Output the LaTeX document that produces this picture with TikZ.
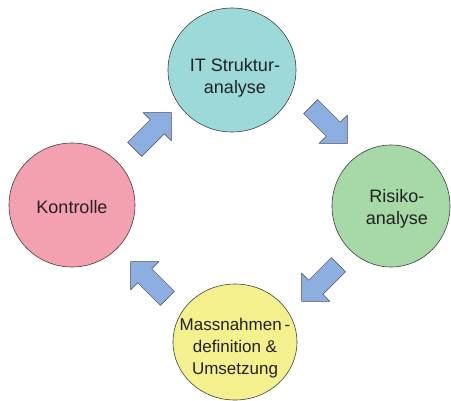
\documentclass[tikz,border=0pt]{standalone}
\usepackage{fontspec}
\setmainfont{Liberation Sans}
\usetikzlibrary{shapes.geometric}
\definecolor{cteal}{HTML}{9ED9D9}
\definecolor{cgreen}{HTML}{A7D8A7}
\definecolor{cyellow}{HTML}{F3F08D}
\definecolor{cpink}{HTML}{F3A0B1}
\definecolor{cblue}{HTML}{8DAEE0}
\definecolor{ctext}{HTML}{222222}
\begin{document}
\begin{tikzpicture}[x=1pt,y=-1pt]
\tikzset{
  phase/.style={ellipse, draw=black!75, line width=0.6pt, inner sep=0pt},
  phasetext/.style={font=\fontsize{18}{22}\selectfont, text=ctext, align=center, inner sep=0pt},
  blockarrow/.pic={\draw[fill=cblue, draw=black!70, line width=0.5pt, line join=round]
    (-26,-10) -- (6,-10) -- (6,-20) -- (26,0) -- (6,20) -- (6,10) -- (-26,10) -- cycle;}
}
\useasboundingbox (0,0) rectangle (451,400);
% phases
\node[phase, fill=cteal, minimum width=128pt, minimum height=124pt] (it) at (232,70) {};
\node[phase, fill=cgreen, minimum width=118pt, minimum height=122pt] (ri) at (391,206) {};
\node[phase, fill=cyellow, minimum width=124pt, minimum height=116pt] (ma) at (235,342) {};
\node[phase, fill=cpink, minimum width=126pt, minimum height=124pt] (ko) at (72,205) {};
% texts
\node[phasetext] (itt) at (235,78) {IT Struktur-\\analyse};
\node[phasetext] (rit) at (397,209) {Risiko-\\analyse};
\node[phasetext, font=\fontsize{17}{22}\selectfont] (mat) at (235,348) {Massnahmen\,-\\definition \&\\Umsetzung};
\node[phasetext] (kot) at (72,207) {Kontrolle};
% arrows
\pic[rotate=45] at (153,131) {blockarrow};
\pic[rotate=-45] at (329,125) {blockarrow};
\pic[rotate=-135] at (320,283) {blockarrow};
\pic[rotate=135] at (149,280) {blockarrow};
\end{tikzpicture}
\end{document}
